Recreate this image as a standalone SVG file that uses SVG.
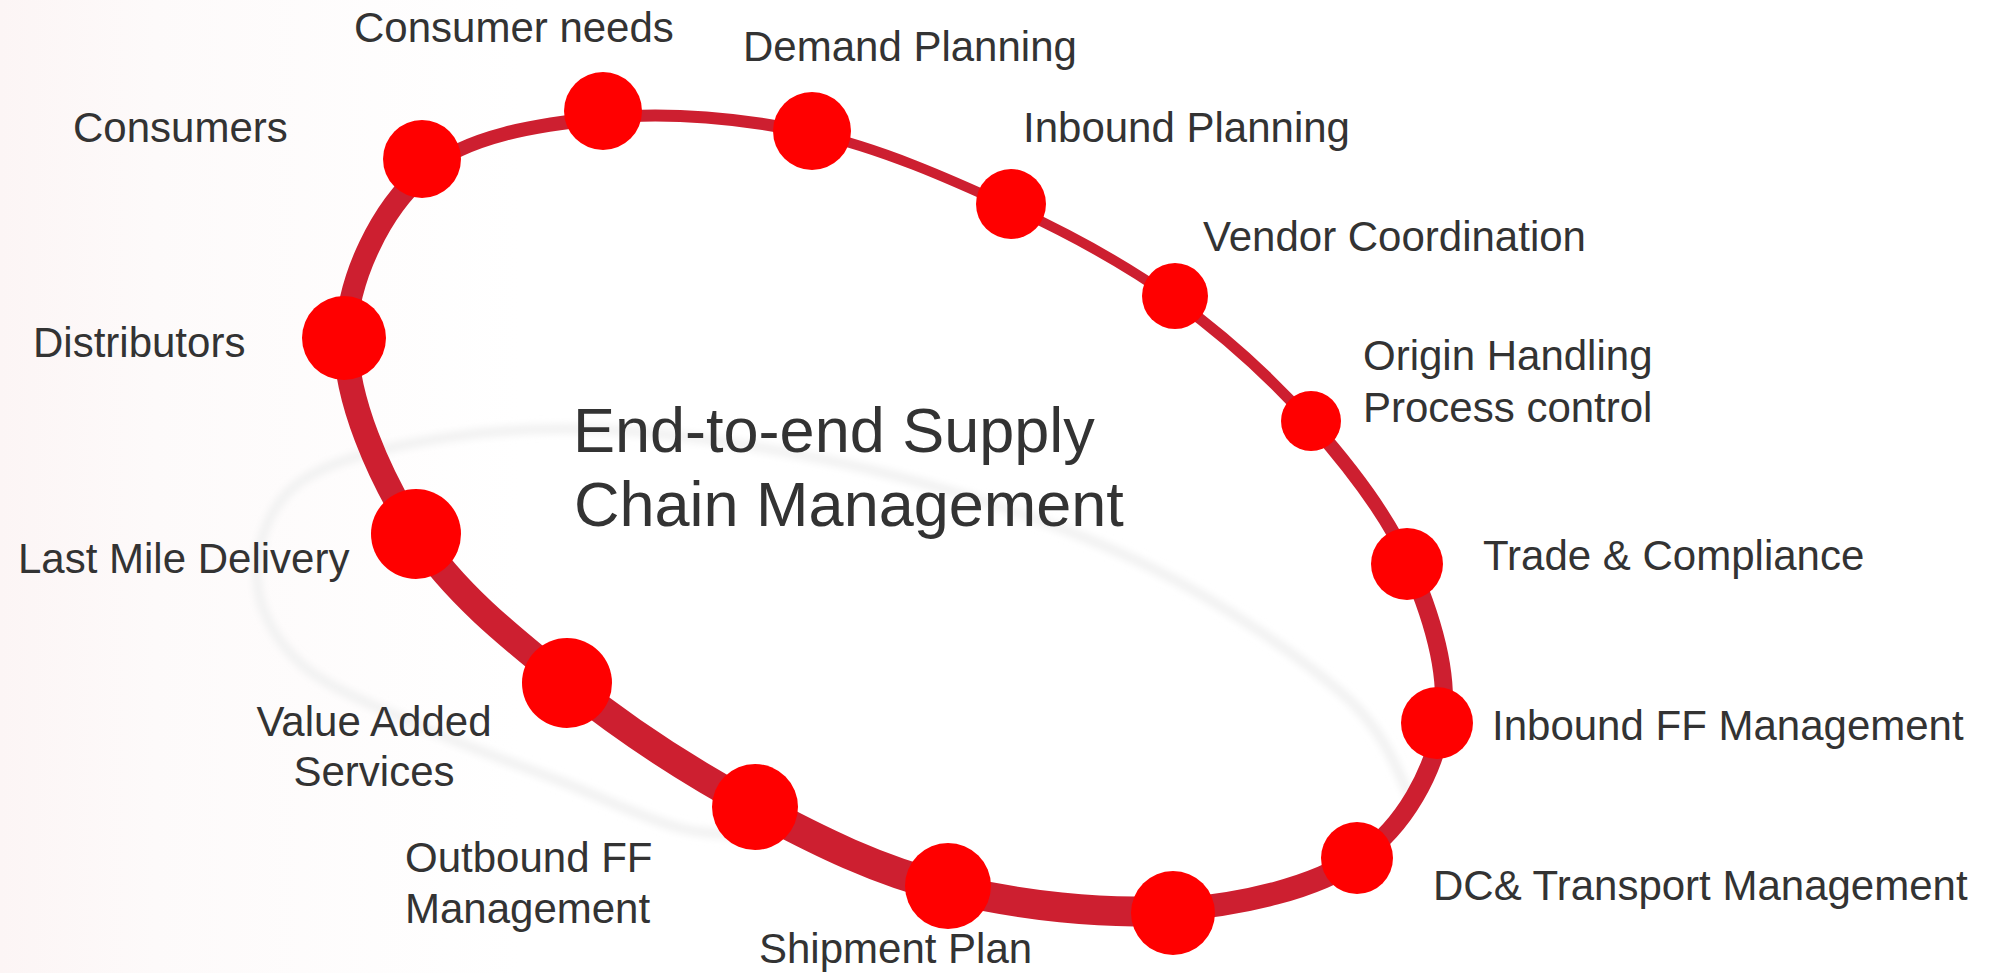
<svg xmlns="http://www.w3.org/2000/svg" width="1993" height="973" viewBox="0 0 1993 973">
<defs>
<linearGradient id="bg" x1="0" y1="0" x2="1" y2="0">
<stop offset="0" stop-color="#fcf5f5"/>
<stop offset="0.3" stop-color="#fdfafa"/>
<stop offset="1" stop-color="#ffffff"/>
</linearGradient>
<filter id="soft" x="-10%" y="-10%" width="120%" height="120%"><feGaussianBlur stdDeviation="3.5"/></filter>
</defs>
<style>
.lbl{font-family:"Liberation Sans",Arial,Helvetica,sans-serif;font-size:42px;fill:#333333}
.title{font-family:"Liberation Sans",Arial,Helvetica,sans-serif;font-size:63px;fill:#333333}
.dot{fill:#ff0000}
.ring{fill:none;stroke:#cd1f30;stroke-linecap:round}
.shadow{fill:none;stroke:#f2f2f2;stroke-width:10;filter:url(#soft)}
</style>
<rect x="0" y="0" width="1993" height="973" fill="#ffffff"/>
<rect x="0" y="0" width="520" height="973" fill="url(#bg)"/>
<path class="shadow" d="M770,835 C755,833.8 715,837 680,828 C645,819 603.3,798 560,781 C516.7,764 463.3,745.7 420,726 C376.7,706.3 327.2,688.2 300,663 C272.8,637.8 257,605.2 257,575 C257,544.8 267.8,505 300,482 C332.2,459 393.3,445.3 450,437 C506.7,428.7 565,425.3 640,432 C715,438.7 815,454.5 900,477 C985,499.5 1075.7,530.3 1150,567 C1224.3,603.7 1302.3,658.2 1346,697 C1389.7,735.8 1401,782.8 1412,800"/>
<g id="connectors">
<path class="ring" stroke-width="14" d="M424,172 C466.8,135.3 538.3,124.5 603,118"/>
<path class="ring" stroke-width="12" d="M603,118 C667.7,111.5 744,118.2 812,133"/>
<path class="ring" stroke-width="10" d="M812,133 C880,147.8 950.5,179.2 1011,207"/>
<path class="ring" stroke-width="10" d="M1011,207 C1071.5,234.8 1124.7,263.7 1175,300"/>
<path class="ring" stroke-width="11" d="M1175,300 C1225.3,336.3 1273.8,380.7 1313,425"/>
<path class="ring" stroke-width="14" d="M1313,425 C1352.2,469.3 1388.5,516.3 1410,566"/>
<path class="ring" stroke-width="18" d="M1410,566 C1431.5,615.7 1450.3,674.5 1442,723"/>
<path class="ring" stroke-width="19" d="M1442,723 C1433.7,771.5 1404.8,825.8 1360,857"/>
<path class="ring" stroke-width="23" d="M1360,857 C1315.2,888.2 1241.7,904.8 1173,910"/>
<path class="ring" stroke-width="30" d="M1173,910 C1104.3,915.2 1017.7,905.2 948,888"/>
<path class="ring" stroke-width="31" d="M948,888 C878.3,870.8 818.5,841.2 755,807"/>
<path class="ring" stroke-width="29" d="M755,807 C691.5,772.8 623.5,728.5 567,683"/>
<path class="ring" stroke-width="27" d="M567,683 C510.5,637.5 452.8,591.5 416,534"/>
<path class="ring" stroke-width="25" d="M416,534 C379.2,476.5 344.7,398.3 346,338"/>
<path class="ring" stroke-width="22" d="M346,338 C347.3,277.7 381.2,208.7 424,172"/>
</g>
<g id="title">
<text class="title" x="573" y="452">End-to-end Supply</text>
<text class="title" x="574" y="526">Chain Management</text>
</g>
<g id="node-consumers"><circle class="dot" cx="422" cy="159" r="39"/><text class="lbl" x="73" y="142">Consumers</text></g>
<g id="node-consumer-needs"><circle class="dot" cx="603" cy="111" r="39"/><text class="lbl" x="354" y="42">Consumer needs</text></g>
<g id="node-demand-planning"><circle class="dot" cx="812" cy="131" r="39"/><text class="lbl" x="743" y="61">Demand Planning</text></g>
<g id="node-inbound-planning"><circle class="dot" cx="1011" cy="204" r="35"/><text class="lbl" x="1023" y="142">Inbound Planning</text></g>
<g id="node-vendor-coordination"><circle class="dot" cx="1175" cy="296" r="33"/><text class="lbl" x="1203" y="251">Vendor Coordination</text></g>
<g id="node-origin-handling"><circle class="dot" cx="1311" cy="421" r="30"/><text class="lbl" x="1363" y="370">Origin Handling</text><text class="lbl" x="1363" y="422">Process control</text></g>
<g id="node-trade-compliance"><circle class="dot" cx="1407" cy="564" r="36"/><text class="lbl" x="1483" y="570">Trade &amp; Compliance</text></g>
<g id="node-inbound-ff"><circle class="dot" cx="1437" cy="723" r="36"/><text class="lbl" x="1492" y="740">Inbound FF Management</text></g>
<g id="node-dc-transport"><circle class="dot" cx="1357" cy="858" r="36"/><text class="lbl" x="1433" y="900">DC&amp; Transport Management</text></g>
<g id="node-bottom"><circle class="dot" cx="1173" cy="913" r="42"/></g>
<g id="node-shipment-plan"><circle class="dot" cx="948" cy="886" r="43"/><text class="lbl" x="759" y="963">Shipment Plan</text></g>
<g id="node-outbound-ff"><circle class="dot" cx="755" cy="807" r="43"/><text class="lbl" x="405" y="872">Outbound FF</text><text class="lbl" x="405" y="923">Management</text></g>
<g id="node-value-added"><circle class="dot" cx="567" cy="683" r="45"/><text class="lbl" x="374" y="736" text-anchor="middle">Value Added</text><text class="lbl" x="374" y="786" text-anchor="middle">Services</text></g>
<g id="node-last-mile"><circle class="dot" cx="416" cy="534" r="45"/><text class="lbl" x="18" y="573">Last Mile Delivery</text></g>
<g id="node-distributors"><circle class="dot" cx="344" cy="338" r="42"/><text class="lbl" x="33" y="357">Distributors</text></g>
</svg>
